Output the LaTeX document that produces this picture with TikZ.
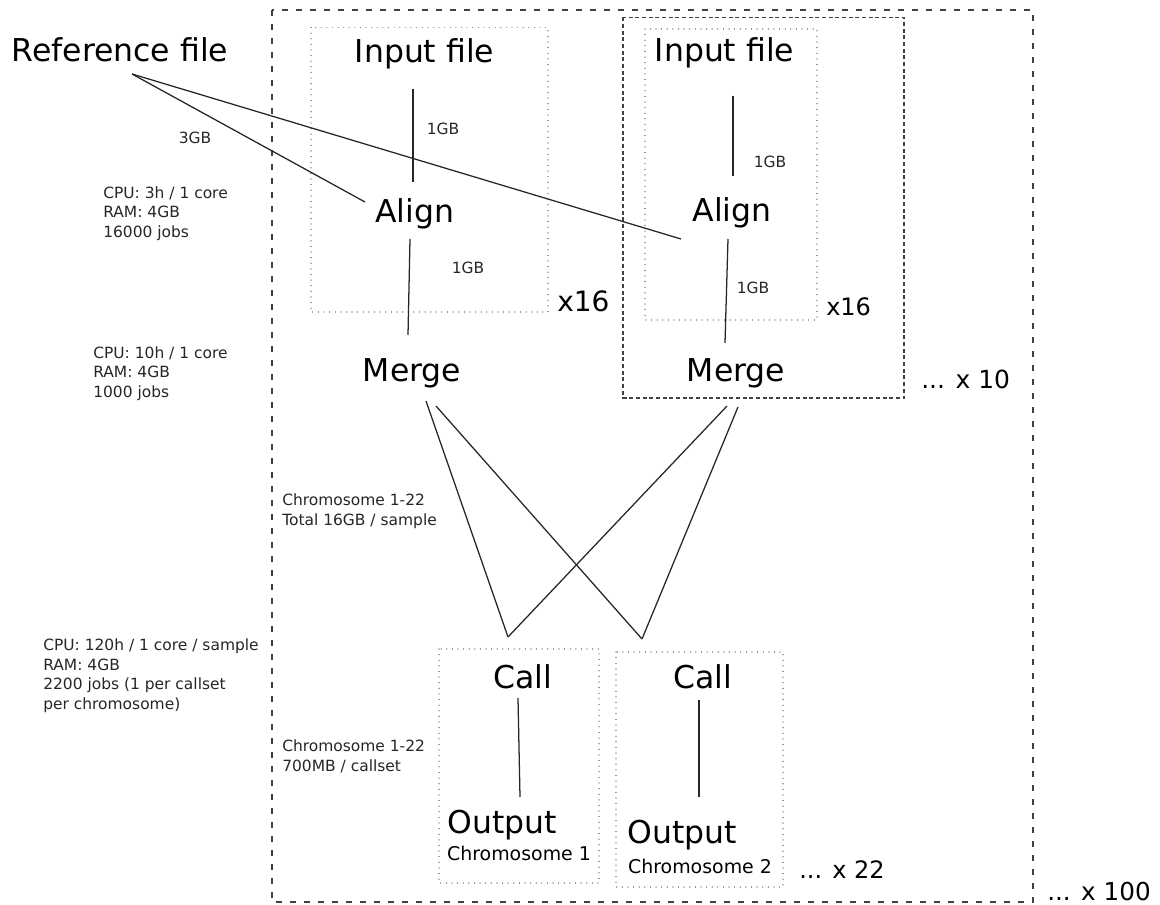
\documentclass[tikz,border=0pt]{standalone}
\usepackage{fontspec}
\setmainfont{DejaVu Sans}
\usetikzlibrary{calc}
\begin{document}
\begin{tikzpicture}[x=0.75pt,y=-0.75pt,
  big/.style={font=\fontsize{23.6}{28}\selectfont, inner sep=0, anchor=base},
  chrom/.style={font=\fontsize{14.2}{17}\selectfont, inner sep=0, anchor=base},
  note/.style={font=\fontsize{11.6}{14.7}\selectfont, inner sep=0, anchor=base west, align=left, text=black!85},
  lab/.style={font=\fontsize{11.6}{14}\selectfont, inner sep=0, anchor=base, text=black!85},
  mult/.style={inner sep=0, anchor=base west},
  link/.style={draw=black!85, line width=0.95pt},
  outerbox/.style={draw=black!75, line width=0.9pt, dash pattern=on 4.5pt off 6pt},
  groupbox/.style={draw=black!75, line width=0.8pt, dash pattern=on 3pt off 2pt},
  dotbox/.style={draw=black!50, line width=0.9pt, dash pattern=on 0.01pt off 4.2pt, line cap=round}]
\useasboundingbox (0,0) rectangle (1160,905);

% frames
\draw[outerbox] (272,10) rectangle (1033,902);
\draw[dotbox] (311,27.5) rectangle (548,312);
\draw[groupbox] (623,17.5) rectangle (904,398);
\draw[dotbox] (645,29) rectangle (817,320);
\draw[dotbox] (439,649) rectangle (599,883);
\draw[dotbox] (616,652) rectangle (783,887);

% main nodes
\node[big] (ref) at (120,62) {Reference file};
\node[big] (in1) at (424.5,63) {Input file};
\node[big] (al1) at (414.5,223) {Align};
\node[big] (me1) at (412,382) {Merge};
\node[big] (in2) at (724.5,62) {Input file};
\node[big] (al2) at (732,222) {Align};
\node[big] (me2) at (736,382) {Merge};
\node[big] (ca1) at (522.5,688) {Call};
\node[big] (ca2) at (703,688) {Call};
\node[big] (ou1) at (502,833) {Output};
\node[big] (ou2) at (682.5,843) {Output};
\node[chrom] (ch1) at (519,860) {Chromosome 1};
\node[chrom] (ch2) at (700,873) {Chromosome 2};

% connectors
\draw[link] ($(ref.base)+(12,12)$) -- ($(al1.base)+(-49.5,-21)$);
\draw[link] ($(ref.base)+(12,12)$) -- ($(al2.base)+(-51,17)$);
\draw[link] ($(in1.base)+(-11.5,26)$) -- ($(al1.base)+(-1.5,-41)$);
\draw[link] ($(al1.base)+(-4.5,16)$) -- ($(me1.base)+(-4,-47)$);
\draw[link] ($(in2.base)+(8.5,34)$) -- ($(al2.base)+(1,-46)$);
\draw[link] ($(al2.base)+(-4,17)$) -- ($(me2.base)+(-11,-39)$);
\draw[link] ($(me1.base)+(14,19)$) -- ($(ca1.base)+(-14.5,-51)$);
\draw[link] ($(me1.base)+(24,24)$) -- ($(ca2.base)+(-61,-49)$);
\draw[link] ($(me2.base)+(-9,24)$) -- ($(ca1.base)+(-14.5,-51)$);
\draw[link] ($(me2.base)+(2,25)$) -- ($(ca2.base)+(-61,-49)$);
\draw[link] ($(ca1.base)+(-4.5,10)$) -- ($(ou1.base)+(18,-36)$);
\draw[link] ($(ca2.base)+(-4,12)$) -- ($(ou2.base)+(16.5,-46)$);

% edge labels
\node[lab] (gbr) at (195,143.5) {3GB};
\node[lab] (gb1) at (443,134.5) {1GB};
\node[lab] (gb2) at (468,273.5) {1GB};
\node[lab] (gb3) at (770,167.5) {1GB};
\node[lab] (gb4) at (753,293.5) {1GB};

% notes (anchor = baseline of last line)
\node[note] (n1) at (103,237.5) {CPU: 3h / 1 core\\RAM: 4GB\\16000 jobs};
\node[note] (n2) at (93,397.5) {CPU: 10h / 1 core\\RAM: 4GB\\1000 jobs};
\node[note] (n3) at (282,525) {Chromosome 1-22\\Total 16GB / sample};
\node[note] (n4) at (43,709.5) {CPU: 120h / 1 core / sample\\RAM: 4GB\\2200 jobs (1 per callset\\per chromosome)};
\node[note] (n5) at (282,771) {Chromosome 1-22\\700MB / callset};

% multipliers
\node[mult, font=\fontsize{21}{24}\selectfont] (m1) at (557,312) {x16};
\node[mult, font=\fontsize{18}{21}\selectfont] (m2) at (826,316) {x16};
\node[mult, font=\fontsize{18.7}{22}\selectfont] (m3) at (921,388) {... x 10};
\node[mult, font=\fontsize{18}{21}\selectfont] (m4) at (799,878) {... x 22};
\node[mult, font=\fontsize{18.5}{22}\selectfont] (m5) at (1047,900) {... x 100};
\end{tikzpicture}
\end{document}
